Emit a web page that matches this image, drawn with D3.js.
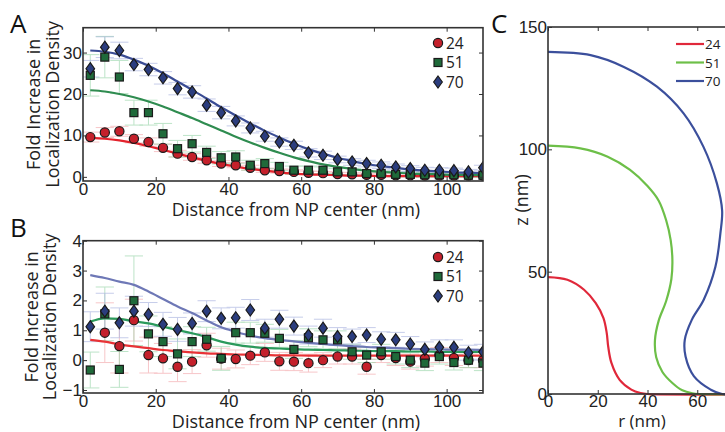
<!DOCTYPE html>
<html>
<head>
<meta charset="utf-8">
<script src="https://cdn.jsdelivr.net/npm/d3@7"></script>
<style>
  body { margin: 0; background: #fff; }
  svg { display: block; font-family: "Open Sans", sans-serif; }
  .tick text { font-size: 17px; fill: #222; }
  .tick line { stroke: #333; }
  .lab { font-size: 18px; fill: #222; }
  .labc { font-size: 17px; fill: #222; }
  .leg { font-size: 15.5px; fill: #222; }
  .legc { font-size: 13.5px; fill: #222; }
  .panel { font-size: 26px; fill: #111; }
</style>
</head>
<body>
<div id="fig"></div>
<script>
// distance bins (nm)
var dist = [2, 6, 10, 14, 18, 22, 26, 30, 34, 38, 42, 46, 50, 54, 58, 62, 66, 70, 74, 78, 82, 86, 90, 94, 98, 102, 106, 110];
var series = ["24", "51", "70"];

// panel A
var redA   = [9.6, 10.7, 11.0, 9.2, 8.4, 7.0, 5.6, 4.8, 4.0, 3.2, 2.8, 2.2, 1.6, 1.4, 1.2, 1.0, 0.9, 0.7, 0.6, 0.5, 0.5, 0.4, 0.4, 0.3, 0.3, 0.3, 0.3, 0.3];
var greenA = [24.5, 28.9, 24.1, 15.5, 15.5, 10.4, 6.8, 8.0, 5.9, 4.6, 4.8, 2.8, 3.2, 2.5, 1.6, 1.6, 1.6, 1.2, 1.2, 0.8, 0.8, 0.6, 0.6, 0.5, 0.5, 0.5, 0.4, 0.4];
var blueA  = [26.1, 31.3, 30.5, 27.1, 25.9, 23.9, 21.3, 20.5, 17.3, 15.5, 13.5, 11.8, 9.8, 8.4, 7.6, 5.8, 5.2, 4.2, 3.6, 3.2, 2.8, 2.4, 2.0, 1.6, 1.6, 1.5, 1.2, 2.2];
var redErrA   = [1.2, 1.2, 1.2, 1.0, 1.0, 0.9, 0.8, 0.8, 0.7, 0.7, 0.6, 0.6, 0.5, 0.5, 0.5, 0.4, 0.4, 0.4, 0.4, 0.4, 0.4, 0.3, 0.3, 0.3, 0.3, 0.3, 0.3, 0.3];
var greenErrA = [5, 5, 4, 3, 3, 2.5, 2, 2, 1.5, 1.5, 1.5, 1.2, 1.2, 1, 1, 1, 0.8, 0.8, 0.8, 0.7, 0.7, 0.6, 0.6, 0.6, 0.5, 0.5, 0.5, 0.5];
var blueErrA  = [2, 2.5, 2, 1.5, 1.5, 1.5, 1.5, 1.5, 1.5, 1.5, 1.2, 1.2, 1.2, 1, 1, 1, 1, 0.8, 0.8, 0.8, 0.8, 0.7, 0.7, 0.7, 0.6, 0.6, 0.6, 0.6];
var redFitA   = [9.4, 9.2, 8.8, 8.2, 7.4, 6.5, 5.6, 4.7, 3.9, 3.1, 2.5, 1.9, 1.5, 1.1, 0.8, 0.6, 0.5, 0.4, 0.3, 0.3, 0.2, 0.2, 0.2, 0.2, 0.2, 0.2, 0.2, 0.2];
var greenFitA = [20.9, 20.6, 20.0, 19.2, 18.2, 17.0, 15.6, 14.2, 12.7, 11.2, 9.7, 8.3, 7.0, 5.8, 4.7, 3.8, 3.0, 2.4, 1.9, 1.5, 1.2, 1.0, 0.8, 0.7, 0.6, 0.5, 0.5, 0.4];
var blueFitA  = [30.5, 30.2, 29.5, 28.3, 26.8, 25.0, 23.0, 21.0, 18.9, 16.8, 14.8, 12.9, 11.1, 9.5, 8.0, 6.7, 5.6, 4.6, 3.8, 3.1, 2.6, 2.2, 1.8, 1.5, 1.3, 1.1, 1.0, 0.9];

// panel B
var redB   = [null, 0.92, 0.47, 1.34, 0.17, 0.06, -0.22, -0.05, 0.5, 0.05, 0.04, 0.15, 0.26, -0.04, -0.05, -0.1, 0.0, 0.12, 0.12, -0.22, 0.17, 0.07, -0.05, 0.05, 0.17, 0.07, 0.0, 0.0];
var greenB = [-0.33, 1.55, -0.31, 1.99, 0.88, 0.62, 0.21, 0.62, 0.7, 0.06, 0.92, 0.92, 0.9, 0.73, 0.36, 0.75, 0.68, 0.68, 0.28, 0.17, 0.28, 0.12, 0.0, -0.1, 0.12, -0.08, 0.0, -0.1];
var blueB  = [1.12, 1.64, 1.25, 1.64, 1.53, 1.2, 1.03, 1.23, 1.64, 1.40, 1.42, 1.68, 1.07, 1.37, 1.14, 0.84, 1.07, 0.79, 0.79, 0.84, 0.70, 0.68, 0.54, 0.36, 0.43, 0.43, 0.25, 0.28];
var redErrB   = [0, 1.0, 0.9, 0.7, 0.6, 0.5, 0.5, 0.4, 0.4, 0.35, 0.3, 0.3, 0.3, 0.3, 0.3, 0.3, 0.25, 0.25, 0.25, 0.25, 0.25, 0.25, 0.25, 0.25, 0.25, 0.25, 0.25, 0.25];
var greenErrB = [0.6, 0.9, 0.6, 1.5, 0.6, 0.5, 0.5, 0.5, 0.4, 0.4, 0.35, 0.35, 0.3, 0.3, 0.3, 0.3, 0.3, 0.3, 0.25, 0.25, 0.25, 0.25, 0.25, 0.25, 0.25, 0.25, 0.25, 0.25];
var blueErrB  = [0.5, 0.6, 0.5, 0.5, 0.4, 0.4, 0.4, 0.35, 0.35, 0.35, 0.35, 0.35, 0.3, 0.3, 0.3, 0.3, 0.3, 0.3, 0.25, 0.25, 0.25, 0.25, 0.25, 0.25, 0.25, 0.25, 0.25, 0.25];
var redFitB   = [0.68, 0.62, 0.53, 0.46, 0.4, 0.34, 0.3, 0.26, 0.23, 0.21, 0.19, 0.18, 0.17, 0.16, 0.16, 0.15, 0.15, 0.15, 0.15, 0.15, 0.15, 0.15, 0.15, 0.15, 0.15, 0.15, 0.15, 0.15];
var greenFitB = [1.29, 1.4, 1.38, 1.3, 1.23, 1.12, 1.01, 0.9, 0.77, 0.62, 0.52, 0.45, 0.41, 0.39, 0.37, 0.35, 0.34, 0.33, 0.32, 0.31, 0.3, 0.3, 0.29, 0.29, 0.28, 0.28, 0.28, 0.28];
var blueFitB  = [2.85, 2.75, 2.63, 2.52, 2.3, 2.05, 1.8, 1.58, 1.33, 1.1, 0.95, 0.82, 0.74, 0.68, 0.63, 0.58, 0.54, 0.5, 0.47, 0.44, 0.42, 0.4, 0.38, 0.37, 0.36, 0.35, 0.35, 0.34];

// panel C: membrane profiles (r, z in nm)
var rRed = [0, 7.8, 14.5, 19.2, 22.3, 23.6, 24.2, 25.5, 28.8, 33.5, 37.2, 40, 100];
var zRed = [47.8, 46.7, 42.6, 37.1, 31, 25, 19.4, 12.7, 5.8, 1.8, 0.4, 0, 0];
var rGreen = [0, 13, 24, 33, 40, 44.5, 47.5, 49.3, 50, 49.6, 47.5, 44.5, 43, 43.5, 46, 50, 54, 58, 61, 100];
var zGreen = [101.5, 100.4, 97, 91.6, 85, 79, 71, 63, 55, 47, 38, 30, 22, 15, 9, 4.5, 1.5, 0.3, 0, 0];
var rBlue = [0, 17.1, 30.5, 43.8, 54.5, 62.5, 67.9, 70, 69.3, 67.3, 62.6, 57.8, 55, 55.3, 58.7, 65.4, 70, 100];
var zBlue = [139.8, 138.5, 133.7, 125.6, 114.7, 101, 86.1, 75, 65.7, 52, 38.5, 30.3, 22.2, 15.3, 7.2, 1.8, 0, 0];

var markColor = ["#c4202b", "#1f6a3a", "#2b3d7e"];
var errColor = ["#f4a9ad", "#9ad6ab", "#a9b3e0"];
var fitA = ["#e3222c", "#2f8c50", "#3a4c94"];
var fitB = ["#e83236", "#2b9a5c", "#6e78b6"];
var shapeColor = ["#e0283a", "#6dbf48", "#3b4f9c"];

var svg = d3.select("#fig").append("svg")
    .attr("width", 725)
    .attr("height", 432);

// draw a framed axes box with inward ticks on all four sides
var drawFrame = function(x, y, xt, yt, pad){
  var g = svg.append("g");
  var x0 = x.range()[0], x1 = x.range()[1], y0 = y.range()[0], y1 = y.range()[1];
  g.append("g")
    .attr("transform", "translate(0," + y0 + ")")
    .call(d3.axisBottom(x).tickValues(xt).tickFormat(d3.format("d")).tickSizeInner(-4).tickSizeOuter(0).tickPadding(pad));
  g.append("g")
    .attr("transform", "translate(" + x0 + ",0)")
    .call(d3.axisLeft(y).tickValues(yt).tickFormat(d3.format("d")).tickSizeInner(-4).tickSizeOuter(0).tickPadding(1));
  g.append("g")
    .attr("transform", "translate(0," + y1 + ")")
    .call(d3.axisTop(x).tickValues(xt).tickSizeInner(-4).tickSizeOuter(0).tickFormat(""));
  g.append("g")
    .attr("transform", "translate(" + x1 + ",0)")
    .call(d3.axisRight(y).tickValues(yt).tickSizeInner(-4).tickSizeOuter(0).tickFormat(""));
  g.selectAll(".domain").remove();
  g.append("rect")
    .attr("x", x0).attr("y", y1)
    .attr("width", x1 - x0).attr("height", y0 - y1)
    .attr("fill", "none").attr("stroke", "#333").attr("stroke-width", 1.6);
  return g;
};

var diamond = "M0,-6L4.3,0L0,6L-4.3,0Z";

var drawMarker = function(g, k, cx, cy){
  if (k == 0) {
    g.append("circle").attr("cx", cx).attr("cy", cy).attr("r", 4.6)
      .attr("fill", markColor[0]).attr("stroke", "#1a1a1a").attr("stroke-width", 1.2);
  } else if (k == 1) {
    g.append("rect").attr("x", cx - 4).attr("y", cy - 4).attr("width", 8).attr("height", 8)
      .attr("fill", markColor[1]).attr("stroke", "#1a1a1a").attr("stroke-width", 1.2);
  } else {
    g.append("path").attr("d", diamond).attr("transform", "translate(" + cx + "," + cy + ")")
      .attr("fill", markColor[2]).attr("stroke", "#1a1a1a").attr("stroke-width", 1.2);
  }
};

var drawDataPanel = function(y, vals, errs, fits, fitCol, yt, letter, legY, labX){
  var x = d3.scaleLinear().domain([0, 110]).range([83, 483]);
  var yr = y.range();
  var clipId = "clip" + letter;
  svg.append("clipPath").attr("id", clipId).append("rect")
    .attr("x", 83).attr("y", yr[1]).attr("width", 400).attr("height", yr[0] - yr[1]);
  var plot = svg.append("g").attr("clip-path", "url(#" + clipId + ")");

  // error bars
  vals.forEach(function(v, k){
    var eg = plot.append("g").attr("stroke", errColor[k]).attr("stroke-width", 1).attr("opacity", 0.65);
    v.forEach(function(d, i){
      if (d == null || !errs[k][i]) return;
      var xi = dist[i];
      eg.append("line").attr("x1", x(xi)).attr("x2", x(xi))
        .attr("y1", y(d - errs[k][i])).attr("y2", y(d + errs[k][i]));
      [d - errs[k][i], d + errs[k][i]].forEach(function(e){
        eg.append("line").attr("x1", x(xi - 2.5)).attr("x2", x(xi + 2.5))
          .attr("y1", y(e)).attr("y2", y(e));
      });
    });
  });

  // fit curves
  var line = d3.line()
    .x(function(d, i){ return x(dist[i]); })
    .y(function(d){ return y(d); })
    .curve(d3.curveMonotoneX);
  fits.forEach(function(f, k){
    plot.append("path").attr("d", line(f))
      .attr("fill", "none").attr("stroke", fitCol[k]).attr("stroke-width", 2.2);
  });

  // markers
  var mg = plot.append("g");
  vals.forEach(function(v, k){
    v.forEach(function(d, i){
      if (d == null) return;
      drawMarker(mg, k, x(dist[i]), y(d));
    });
  });

  drawFrame(x, y, [0, 20, 40, 60, 80, 100], yt, 2);

  // legend
  series.forEach(function(s, k){
    var ly = legY + k * 19.5;
    drawMarker(svg, k, 438, ly);
    svg.append("text").attr("class", "leg").attr("x", 446).attr("y", ly + 5.5).text(s);
  });

  svg.append("text").attr("class", "lab")
    .attr("x", 296).attr("y", yr[0] + 35)
    .attr("text-anchor", "middle")
    .text("Distance from NP center (nm)");

  var cy = (yr[0] + yr[1]) / 2;
  var yl = svg.append("g").attr("transform", "translate(0," + cy + ")");
  yl.append("text").attr("class", "lab").attr("transform", "translate(" + labX[0] + ",0) rotate(-90)")
    .attr("text-anchor", "middle").text("Fold Increase in");
  yl.append("text").attr("class", "lab").attr("transform", "translate(" + labX[1] + ",0) rotate(-90)")
    .attr("text-anchor", "middle").text("Localization Density");
};

// Panel A
var yA = d3.scaleLinear().domain([-1, 36]).range([181, 27.7]);
drawDataPanel(yA, [redA, greenA, blueA], [redErrA, greenErrA, blueErrA],
  [redFitA, greenFitA, blueFitA], fitA, [0, 10, 20, 30], "A", 43, [40, 59]);

// Panel B
var yB = d3.scaleLinear().domain([-1.1, 4]).range([393, 240.7]);
drawDataPanel(yB, [redB, greenB, blueB], [redErrB, greenErrB, blueErrB],
  [redFitB, greenFitB, blueFitB], fitB, [-1, 0, 1, 2, 3, 4], "B", 257, [38, 56]);

// Panel C
var xC = d3.scaleLinear().domain([0, 80]).range([548, 747]);
var yC = d3.scaleLinear().domain([0, 150]).range([394, 27]);
var shapes = [[rRed, zRed], [rGreen, zGreen], [rBlue, zBlue]];
var lineC = d3.line()
  .x(function(d){ return xC(d[0]); })
  .y(function(d){ return yC(d[1]); })
  .curve(d3.curveCatmullRom.alpha(0.5));
shapes.forEach(function(s, k){
  var pts = s[0].map(function(r, i){ return [r, s[1][i]]; });
  svg.append("path").attr("d", lineC(pts))
    .attr("fill", "none").attr("stroke", shapeColor[k]).attr("stroke-width", 2.2);
});
drawFrame(xC, yC, [0, 20, 40, 60], [0, 50, 100, 150], 1);
series.forEach(function(s, k){
  var ly = 44 + k * 18.5;
  svg.append("line").attr("x1", 676).attr("x2", 704).attr("y1", ly).attr("y2", ly)
    .attr("stroke", shapeColor[k]).attr("stroke-width", 2.2);
  svg.append("text").attr("class", "legc").attr("x", 705).attr("y", ly + 5).text(s);
});
svg.append("text").attr("class", "labc").attr("x", 642).attr("y", 427)
  .attr("text-anchor", "middle").text("r (nm)");
svg.append("text").attr("class", "lab").attr("transform", "translate(528,200) rotate(-90)")
  .attr("text-anchor", "middle").text("z (nm)");

// panel letters
svg.append("text").attr("class", "panel").attr("x", 10).attr("y", 33).text("A");
svg.append("text").attr("class", "panel").attr("x", 10).attr("y", 237).text("B");
svg.append("text").attr("class", "panel").attr("x", 491).attr("y", 33).text("C");
</script>
</body>
</html>
